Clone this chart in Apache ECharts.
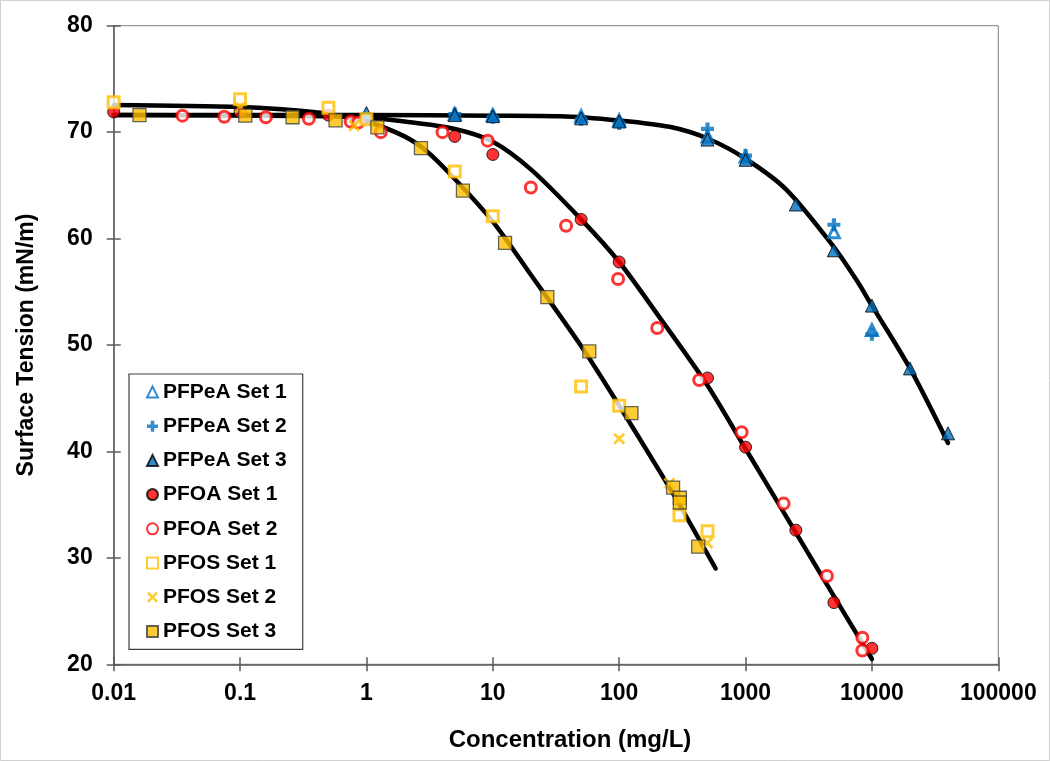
<!DOCTYPE html>
<html><head><meta charset="utf-8">
<script src="https://cdn.jsdelivr.net/npm/echarts@6/dist/echarts.min.js"></script>
<style>html,body{margin:0;padding:0;background:#fff}#c{width:1050px;height:761px}</style>
</head><body><div id="c"></div>
<script>
// ---- data ----
const xTickLabels = ['0.01','0.1','1','10','100','1000','10000','100000'];
const yTicks = [20,30,40,50,60,70,80];

const pfpeaSet1X = [5,10,50,100,500,1000,5000,10000];
const pfpeaSet1Y = [71.7,71.6,71.5,71.1,69.6,67.7,60.6,51.4];
const pfpeaSet2X = [5,10,50,100,500,1000,5000,10000];
const pfpeaSet2Y = [71.7,71.4,71.2,70.8,70.3,67.8,61.3,51.0];
const pfpeaSet3X = [1,5,10,50,100,500,1000,2500,5000,10000,20000,40000];
const pfpeaSet3Y = [71.8,71.6,71.5,71.3,71.0,69.3,67.4,63.2,58.9,53.7,47.8,41.7];

const pfoaSet1X = [0.01,0.1,0.5,5,10,50,100,500,1000,2500,5000,10000];
const pfoaSet1Y = [71.9,71.9,71.6,69.6,67.9,61.8,57.8,46.9,40.4,32.6,25.8,21.5];
const pfoaSet2X = [0.035,0.075,0.16,0.35,0.75,0.86,1.3,4,9.1,20,38,98,200,430,930,2000,4400,8400,8400];
const pfoaSet2Y = [71.55,71.45,71.4,71.25,71.0,70.9,70.0,70.0,69.2,64.8,61.2,56.2,51.6,46.7,41.8,35.1,28.3,22.5,21.3];

const pfosSet1X = [0.01,0.1,0.5,1,5,10,50,100,300,500];
const pfosSet1Y = [72.8,73.1,72.3,71.2,66.3,62.1,46.1,44.3,34.0,32.5];
const pfosSet2X = [0.1,0.8,100,250,500];
const pfosSet2Y = [72.3,70.6,41.2,37.0,31.4];
const pfosSet3X = [0.016,0.11,0.26,0.57,1.22,2.7,5.8,12.5,27,58,125,267,302,302,422];
const pfosSet3Y = [71.6,71.55,71.4,71.1,70.45,68.5,64.5,59.6,54.5,49.4,43.6,36.6,35.65,35.2,31.05];

// fitted curves
const pfpeaFitX = [0.01,1,10,34,100,250,500,1000,2100,5000,7550,10000,20000,40000];
const pfpeaFitY = [71.6,71.6,71.55,71.5,71.1,70.5,69.4,67.5,64.6,59.2,56.1,53.7,47.8,40.8];
const pfoaFitX = [0.01,0.5,1,2,5,10,20,50,100,200,500,1000,2000,5000,10000];
const pfoaFitY = [71.6,71.5,71.35,71.0,70.3,69.1,66.5,61.8,57.8,52.9,46.2,40.25,34.3,26.4,20.5];
const pfosFitX = [0.01,0.1,0.3,0.5,1,2,3,5,10,20,50,100,200,300,580];
const pfosFitY = [72.55,72.35,72.0,71.7,71.0,69.6,68.2,65.6,61.6,56.6,49.9,44.3,38.5,35.0,29.0];

const names = ['PFPeA Set 1','PFPeA Set 2','PFPeA Set 3','PFOA Set 1','PFOA Set 2','PFOS Set 1','PFOS Set 2','PFOS Set 3'];

// ---- build ----
const zip = (xs, ys) => xs.map((x, i) => [x, ys[i]]);
const BLUE = '#0070C0', RED = '#FF0000', YEL = '#FFC000';
const FONT = '"Liberation Sans", Arial, sans-serif';
const PLUS = 'path://M3.4,0H6.6V3.4H10V6.6H6.6V10H3.4V6.6H0V3.4H3.4Z';
const CROSS = 'path://M0,1.7L1.7,0L5,3.3L8.3,0L10,1.7L6.7,5L10,8.3L8.3,10L5,6.7L1.7,10L0,8.3L3.3,5Z';

function fit(xs, ys) {
  return { type: 'line', data: zip(xs, ys), smooth: 0.3, showSymbol: false, silent: true,
    lineStyle: { color: '#000', width: 4.5, cap: 'round' }, z: 1 };
}
function sc(name, xs, ys, symbol, size, itemStyle) {
  return { type: 'scatter', name, data: zip(xs, ys), symbol, symbolSize: size, itemStyle, z: 3 };
}

const series = [
  fit(pfpeaFitX, pfpeaFitY), fit(pfoaFitX, pfoaFitY), fit(pfosFitX, pfosFitY),
  sc(names[0], pfpeaSet1X, pfpeaSet1Y, 'triangle', 11, { color: '#fff', borderColor: BLUE, borderWidth: 3 }),
  sc(names[1], pfpeaSet2X, pfpeaSet2Y, PLUS, 13, { color: BLUE }),
  sc(names[2], pfpeaSet3X, pfpeaSet3Y, 'triangle', 13, { color: BLUE, borderColor: '#000', borderWidth: 1 }),
  sc(names[3], pfoaSet1X, pfoaSet1Y, 'circle', 12, { color: RED, borderColor: '#000', borderWidth: 1 }),
  sc(names[4], pfoaSet2X, pfoaSet2Y, 'circle', 11, { color: '#fff', borderColor: RED, borderWidth: 3 }),
  sc(names[5], pfosSet1X, pfosSet1Y, 'rect', 11, { color: '#fff', borderColor: YEL, borderWidth: 3 }),
  sc(names[6], pfosSet2X, pfosSet2Y, CROSS, 12, { color: YEL }),
  sc(names[7], pfosSet3X, pfosSet3Y, 'rect', 13, { color: YEL, borderColor: '#404040', borderWidth: 1.3 })
];

const chart = echarts.init(document.getElementById('c'), null, { renderer: 'canvas' });
const axisColor = '#595959';
chart.setOption({
  animation: false,
  backgroundColor: '#fff',
  grid: { left: 113.7, top: 25.7, right: 51.7, bottom: 96.7, show: true, borderColor: '#808080', borderWidth: 1 },
  xAxis: [
    { type: 'log', logBase: 10, min: 0.01, max: 100000, position: 'bottom',
      axisLine: { show: true, lineStyle: { color: axisColor, width: 1.5 } },
      axisTick: { show: true, inside: false, length: 7, lineStyle: { color: axisColor, width: 1.5 } },
      axisLabel: { margin: 18, color: '#000', fontFamily: FONT, fontWeight: 'bold', fontSize: 23,
        formatter: v => xTickLabels[Math.round(Math.log10(v)) + 2] },
      splitLine: { show: false }, minorTick: { show: false } },
    { type: 'log', logBase: 10, min: 0.01, max: 100000, position: 'bottom',
      axisLine: { show: false }, axisLabel: { show: false }, splitLine: { show: false },
      axisTick: { show: true, inside: true, length: 7, lineStyle: { color: axisColor, width: 1.5 } } }
  ],
  yAxis: [
    { type: 'value', min: 20, max: 80, interval: 10, position: 'left',
      axisLine: { show: true, lineStyle: { color: axisColor, width: 1.5 } },
      axisTick: { show: true, inside: false, length: 7, lineStyle: { color: axisColor, width: 1.5 } },
      axisLabel: { margin: 21, color: '#000', fontFamily: FONT, fontWeight: 'bold', fontSize: 23,
        formatter: v => String(yTicks[yTicks.indexOf(v)]) },
      splitLine: { show: false } },
    { type: 'value', min: 20, max: 80, interval: 10, position: 'left',
      axisLine: { show: false }, axisLabel: { show: false }, splitLine: { show: false },
      axisTick: { show: true, inside: true, length: 7, lineStyle: { color: axisColor, width: 1.5 } } }
  ],
  legend: {
    show: true, orient: 'vertical', left: 129, top: 374, data: names,
    itemWidth: 11, itemHeight: 11, itemGap: 10.2,
    padding: [6, 16, 6, 17], borderColor: '#404040', borderWidth: 1.2, backgroundColor: '#fff',
    textStyle: { color: '#000', fontFamily: FONT, fontWeight: 'bold', fontSize: 21, lineHeight: 24 },
    selectedMode: false
  },
  graphic: [
    { type: 'text', x: 570, y: 740,
      style: { text: 'Concentration (mg/L)', fontFamily: FONT, fontWeight: 'bold', fontSize: 24, fill: '#000',
        align: 'center', verticalAlign: 'middle' } },
    { type: 'text', x: 27, y: 345, rotation: Math.PI / 2,
      style: { text: 'Surface Tension (mN/m)', fontFamily: FONT, fontWeight: 'bold', fontSize: 23, fill: '#000',
        align: 'center', verticalAlign: 'middle' } },
    { type: 'rect', shape: { x: 0.5, y: 0.5, width: 1049, height: 760 }, style: { fill: 'none', stroke: '#d0d0d0', lineWidth: 1 }, silent: true }
  ],
  series
});
</script></body></html>
